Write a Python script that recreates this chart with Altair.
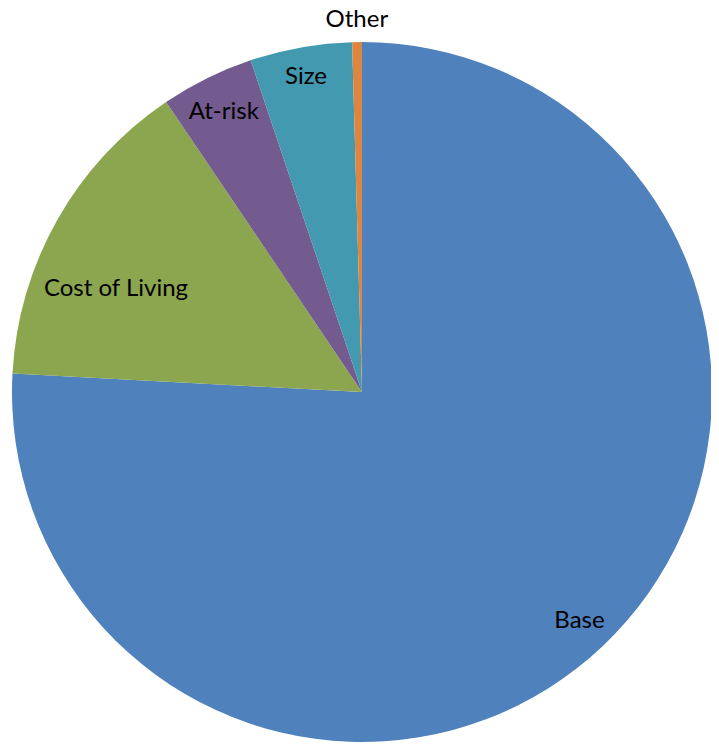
import altair as alt
import pandas as pd

categories = ["Base", "Cost of Living", "At-risk", "Size", "Other"]
values = [75.8, 14.7, 4.3, 4.7, 0.45]
colors = ["#4F81BD", "#8CA650", "#735A8F", "#4399B0", "#DE8540"]

df = pd.DataFrame({"cat": categories, "val": values, "ord": list(range(len(categories)))})

CX, CY, R = 354, 384, 350

base = alt.Chart(df).encode(
    theta=alt.Theta("val:Q", stack=True),
    order=alt.Order("ord:Q"),
    detail=alt.Detail("cat:N"),
    x=alt.value(CX),
    y=alt.value(CY),
)

pie = base.mark_arc(outerRadius=R, stroke=None).encode(
    color=alt.Color("cat:N", scale=alt.Scale(domain=categories, range=colors), legend=None)
)


def label_layer(names, radius, dx=0, dy=0, baseline="middle"):
    test = alt.FieldOneOfPredicate(field="cat", oneOf=names)
    return base.mark_text(
        font="Lato", fontSize=24, color="#000000", align="center", baseline=baseline,
        radius=radius, dx=dx, dy=dy,
    ).encode(text=alt.condition(test, alt.Text("cat:N"), alt.value("")))


layers = [
    pie,
    label_layer(["Base"], 316),
    label_layer(["At-risk"], 312),
    label_layer(["Size"], 320),
    label_layer(["Other"], 365, baseline="alphabetic"),
    label_layer(["Cost of Living"], 270, dx=-11, dy=30),
]

chart = alt.layer(*layers).properties(
    width=703, height=736, padding=0, autosize=alt.AutoSizeParams(type="none")
).configure_view(stroke=None)

chart.save("out.html", embed_options={"renderer": "svg", "actions": False})
